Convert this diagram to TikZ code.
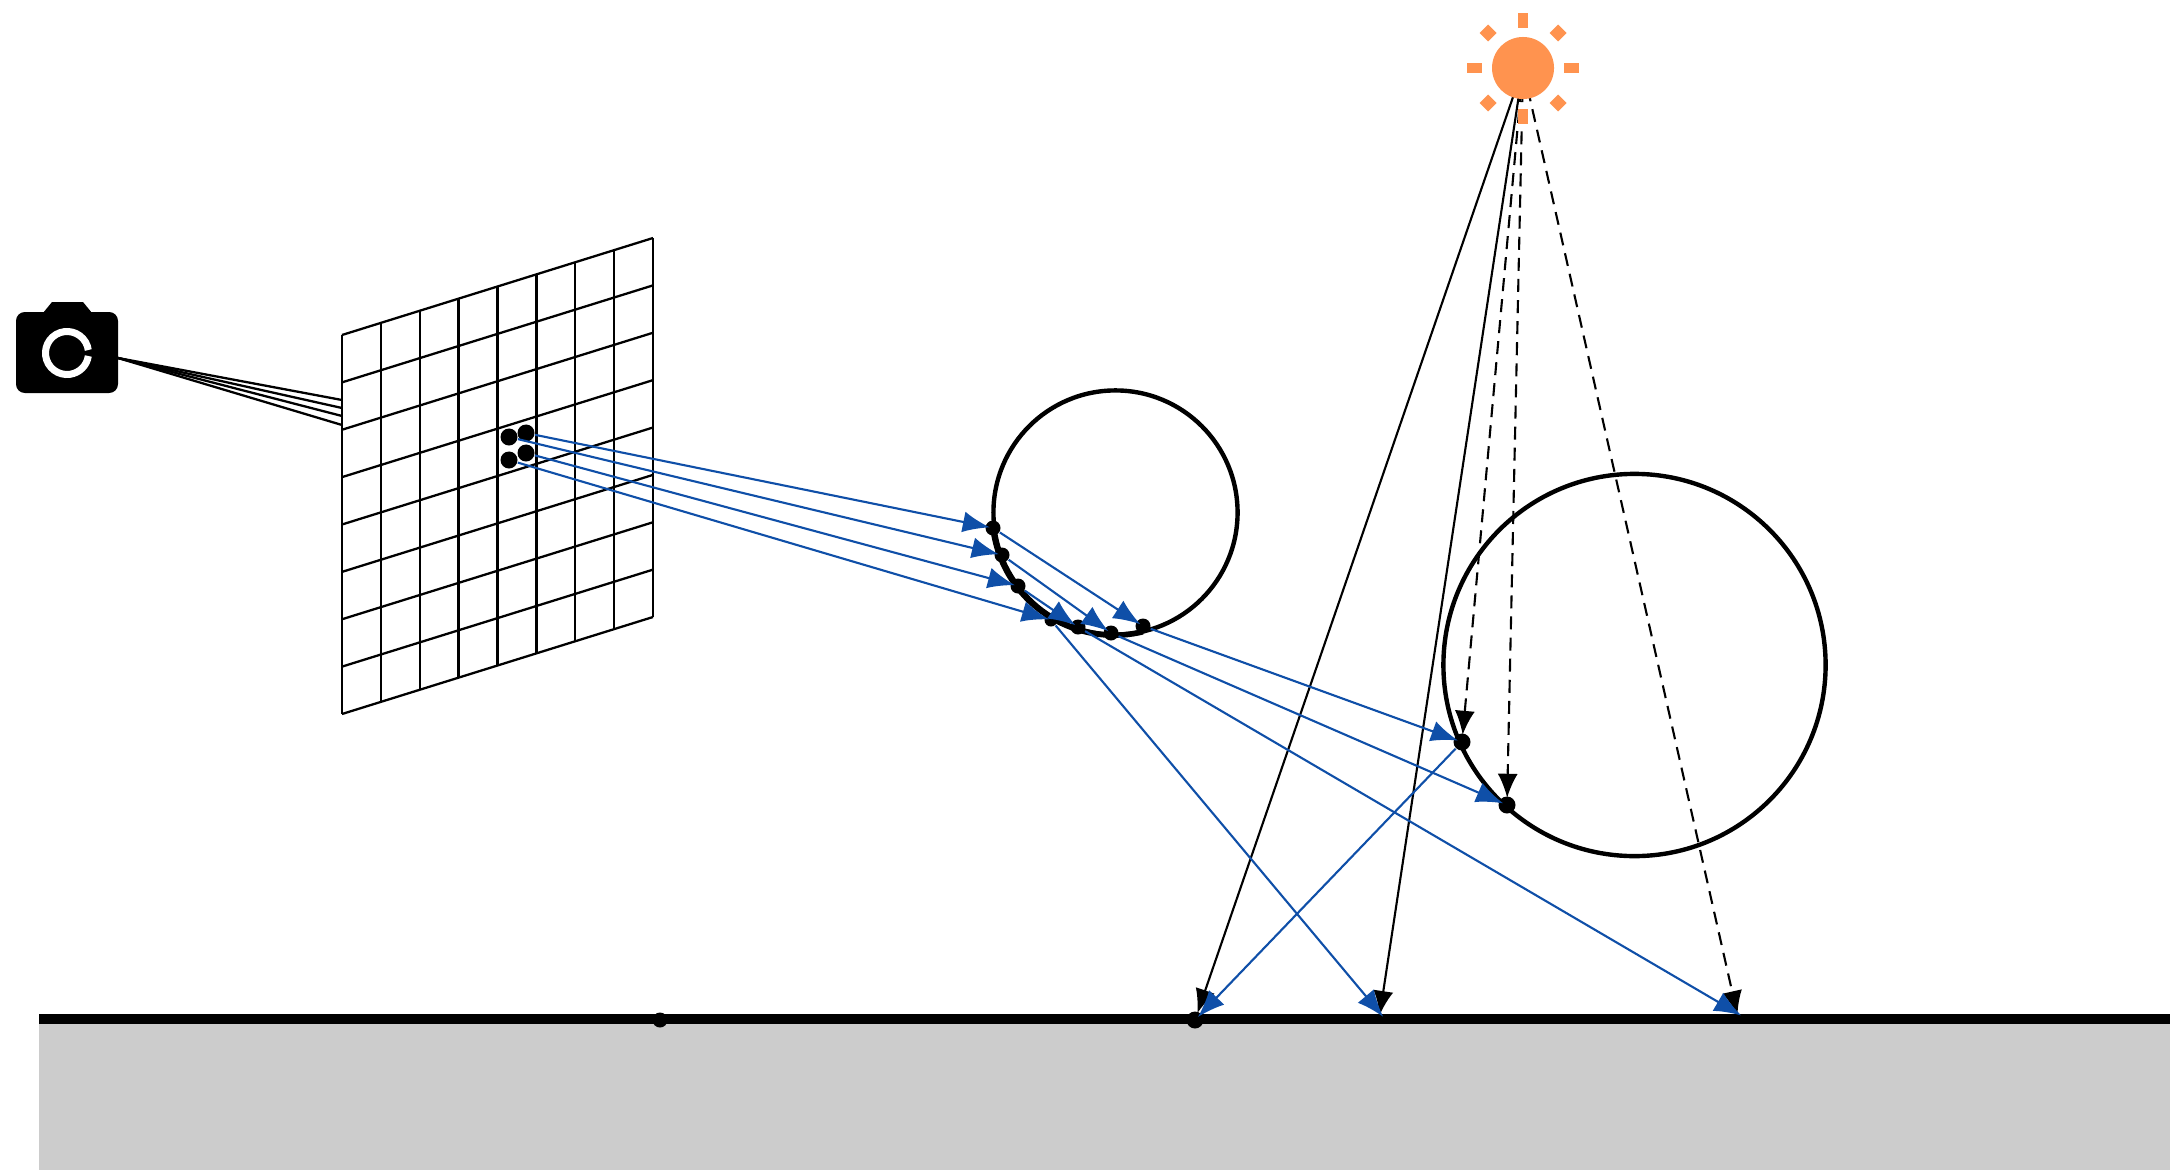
\documentclass[tikz,border=0pt]{standalone}
\usepackage{tikz}
\usetikzlibrary{arrows.meta,calc}
\definecolor{sunorange}{HTML}{FF934F}
\definecolor{rayblue}{HTML}{0F4FA8}
\tikzset{
  pt/.style={circle, fill=black, inner sep=0pt, minimum size=#1},
  pt/.default=0.17cm,
  bluearrow/.style={rayblue, line width=.6pt, shorten >=-.05cm, -{Latex[length=.27cm,width=.21cm]}},
  sunarrow/.style={black, line width=.6pt, shorten >=-.02cm, -{Latex[length=.24cm,width=.2cm]}},
  sunblob/.style={fill=sunorange, inner sep=0pt},
}
\begin{document}
\begin{tikzpicture}[x=0.01cm, y=-0.01cm]
  \useasboundingbox (0,0) rectangle (2170,1170);
  % ground
  \fill[gray!40] (39,1019) rectangle (2170,1170);
  \draw[line width=2.8pt] (39,1019) -- (2170,1019);
  % image plane
  \coordinate (tl) at (342,335);
  \coordinate (tr) at (653,238);
  \coordinate (bl) at (342,714);
  \coordinate (br) at (653,617);
  \foreach \i in {0,...,8} {
    \draw[line width=.65pt] ($(tl)!\i/8!(tr)$) -- ($(bl)!\i/8!(br)$);
    \draw[line width=.65pt] ($(tl)!\i/8!(bl)$) -- ($(tr)!\i/8!(br)$);
  }
  % camera
  \fill[rounded corners=2.5pt] (16,312) rectangle (118,393);
  \fill (43,313) -- (52,302) -- (83,302) -- (92,313) -- cycle;
  \draw[white, line width=2pt] (67,353) ++(8:0.215cm) arc[start angle=8, end angle=352, radius=0.215cm];
  \coordinate (cam) at (118,358);
  \foreach \y in {400,408,416,425} {
    \draw[line width=.65pt] (cam) -- (342,\y);
  }
  % spheres
  \draw[line width=1.25pt] (1115.5,512.5) circle[radius=1.22cm];
  \draw[line width=1.25pt] (1634.5,665) circle[radius=1.91cm];
  \draw[line width=1.6pt] (993,528) arc[start angle=187, end angle=283.6, radius=1.22cm];
  % pixel samples
  \node[pt] (p1) at (526,433) {};
  \node[pt] (p2) at (509,437) {};
  \node[pt] (p3) at (526,453) {};
  \node[pt] (p4) at (509,460) {};
  % first hits
  \node[pt=.15cm] (a1) at (993,528) {};
  \node[pt=.15cm] (a2) at (1002,555) {};
  \node[pt=.15cm] (a3) at (1018,586) {};
  \node[pt=.13cm] (a4) at (1051,620) {};
  % second hits
  \node[pt=.15cm] (b1) at (1143,626) {};
  \node[pt=.15cm] (b2) at (1111,633) {};
  \node[pt=.15cm] (b3) at (1078,627) {};
  % hits on the large sphere and the ground
  \node[pt] (c1) at (1462,742) {};
  \node[pt] (c2) at (1507,805) {};
  \node[pt=.15cm] (g0) at (660,1020) {};
  \node[pt] (g1) at (1195,1020) {};
  \coordinate (g2) at (1380,1013);
  \coordinate (g3) at (1737,1013);
  % sun
  \coordinate (sun) at (1523,68);
  \draw[sunarrow] (sun) -- (g1);
  \draw[sunarrow] (sun) -- (g2);
  \draw[sunarrow, dash pattern=on 3.7pt off 2.3pt] (sun) -- (c1);
  \draw[sunarrow, dash pattern=on 3.7pt off 2.3pt] (sun) -- (c2);
  \draw[sunarrow, dash pattern=on 3.7pt off 2.3pt] (sun) -- (g3);
  % traced paths
  \draw[bluearrow] (p1) -- (a1);
  \draw[bluearrow] (p2) -- (a2);
  \draw[bluearrow] (p3) -- (a3);
  \draw[bluearrow] (p4) -- (a4);
  \draw[bluearrow] (a1) -- (b1);
  \draw[bluearrow] (a2) -- (b2);
  \draw[bluearrow] (a3) -- (b3);
  \draw[bluearrow] (a4) -- (g2);
  \draw[bluearrow] (b1) -- (c1);
  \draw[bluearrow] (b2) -- (c2);
  \draw[bluearrow] (b3) -- (g3);
  \draw[bluearrow] (c1) -- (g1);
  % sun on top
  \node[sunblob, circle, minimum size=.62cm] (sundisk) at (sun) {};
  \fill[sunorange] (1518,13) rectangle (1528,28);
  \fill[sunorange] (1518,109) rectangle (1528,124);
  \fill[sunorange] (1467,63) rectangle (1482,73);
  \fill[sunorange] (1564,63) rectangle (1579,73);
  \foreach \x/\y in {1488/33, 1558/33, 1488/103, 1558/103} {
    \node[sunblob, minimum size=.12cm, rotate=45] at (\x,\y) {};
  }
\end{tikzpicture}
\end{document}
